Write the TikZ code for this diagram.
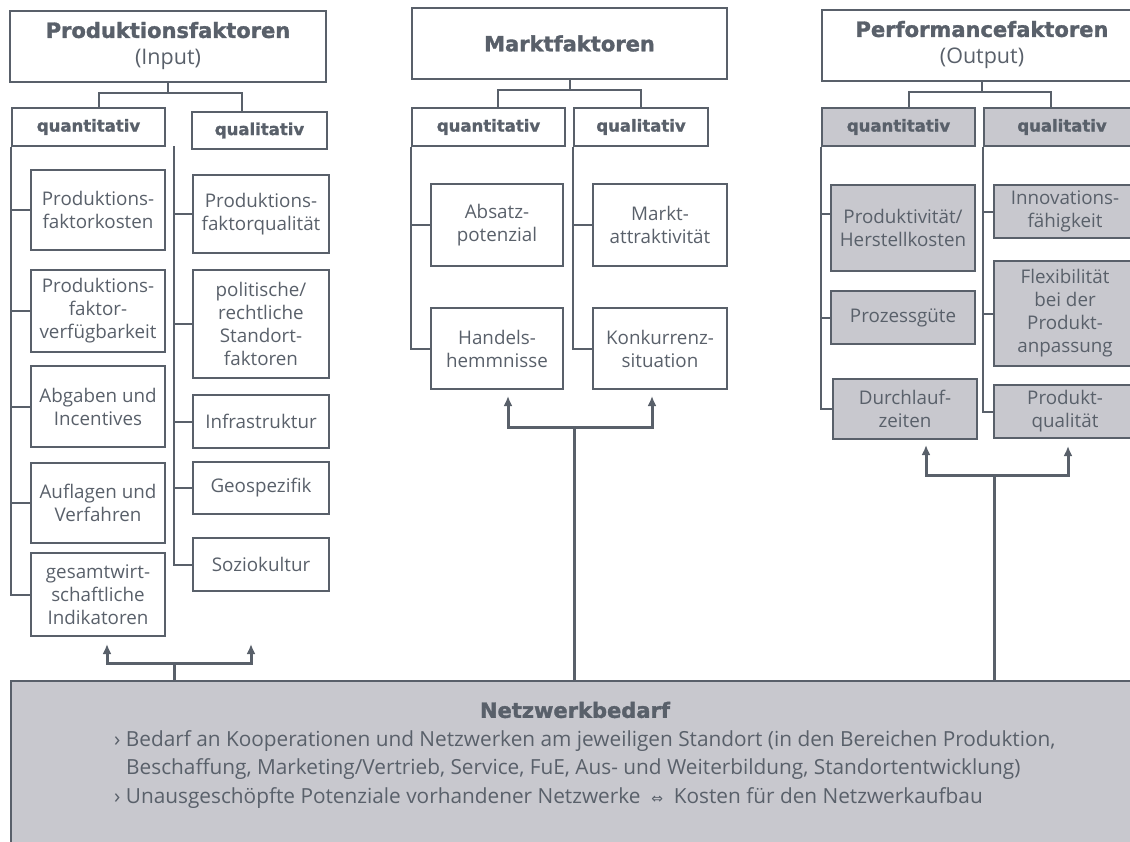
\documentclass[tikz,border=0pt]{standalone}
\usepackage{fontspec}
\setmainfont{Open Sans}
\newfontfamily\symfont{DejaVu Sans}
\newfontfamily\headfam{DejaVu Sans}[BoldFeatures={FakeBold=1.5}]
\newcommand{\headfont}{\headfam\bfseries}
\usetikzlibrary{arrows.meta}

\definecolor{lc}{HTML}{59606A}
\definecolor{gfill}{HTML}{C8C8CE}

\tikzset{
  box/.style={draw=lc, line width=2pt, text=lc, align=center, inner sep=0pt,
    font=\fontsize{18.8}{23}\selectfont},
  gbox/.style={box, fill=gfill},
  topbox/.style={box, font=\fontsize{21.5}{27}\selectfont},
  subhead/.style={box, font=\headfont\fontsize{16.5}{22}\selectfont},
  conn/.style={draw=lc, line width=2pt},
  uparrow/.style={draw=lc, line width=3pt, -{Latex[length=10pt,width=9pt]}},
  txt/.style={text=lc, inner sep=0pt, font=\fontsize{20.8}{28}\selectfont},
}

\begin{document}
\begin{tikzpicture}[x=1pt, y=-1pt]
  \useasboundingbox (0,0) rectangle (1130,841);

  % Produktionsfaktoren (Input)
  \node [topbox, minimum width=316, minimum height=71] (pf) at (168,46)
    {{\headfont\fontsize{21}{27}\selectfont Produktionsfaktoren}\\(Input)};
  \node [subhead, minimum width=153, minimum height=38] (pqn) at (88.5,127) {quantitativ};
  \node [subhead, minimum width=135, minimum height=37] (pql) at (259.5,130.5) {qualitativ};
  \draw [conn] (pf.south) -- ++(0,10) -| ([xshift=10]pqn.north);
  \draw [conn] (pf.south) ++(0,10) -| ([xshift=-18]pql.north);

  \node [box, minimum width=134, minimum height=80] (pk1) at (98,210) {Produktions-\\faktorkosten};
  \node [box, minimum width=134, minimum height=82] (pk2) at (98,311) {Produktions-\\faktor-\\verfügbarkeit};
  \node [box, minimum width=134, minimum height=81] (pk3) at (98,406.5) {Abgaben und\\Incentives};
  \node [box, minimum width=134, minimum height=80] (pk4) at (98,503) {Auflagen und\\Verfahren};
  \node [box, minimum width=134, minimum height=83] (pk5) at (98,594.5) {gesamtwirt-\\schaftliche\\Indikatoren};
  \draw [conn] (pqn.south west) |- (pk5.west);
  \foreach \n in {pk1,pk2,pk3,pk4}
    \draw [conn] (pqn.south west |- \n.west) -- (\n.west);

  \node [box, minimum width=136, minimum height=78] (pl1) at (261,214) {Produktions-\\faktorqualität};
  \node [box, minimum width=136, minimum height=108] (pl2) at (261,324) {politische/\\rechtliche\\Standort-\\faktoren};
  \node [box, minimum width=136, minimum height=53] (pl3) at (261,421.5) {Infrastruktur};
  \node [box, minimum width=136, minimum height=52] (pl4) at (261,488) {Geospezifik};
  \node [box, minimum width=136, minimum height=53] (pl5) at (261,564.5) {Soziokultur};
  \coordinate (pqt) at (174,146);
  \draw [conn] (pqt) |- (pl5.west);
  \foreach \n in {pl1,pl2,pl3,pl4}
    \draw [conn] (pqt |- \n.west) -- (\n.west);

  % Marktfaktoren
  \node [topbox, minimum width=315, minimum height=71] (mf) at (569.5,43.5)
    {\headfont\fontsize{21}{27}\selectfont Marktfaktoren};
  \node [subhead, minimum width=153, minimum height=38] (mqn) at (488.5,127) {quantitativ};
  \node [subhead, minimum width=134, minimum height=38] (mql) at (641,127) {qualitativ};
  \draw [conn] (mf.south) -- ++(0,10) -| ([xshift=9]mqn.north);
  \draw [conn] (mf.south) ++(0,10) -| (mql.north);

  \node [box, minimum width=132, minimum height=82] (mk1) at (497,225) {Absatz-\\potenzial};
  \node [box, minimum width=132, minimum height=81] (mk2) at (497,348.5) {Handels-\\hemmnisse};
  \node [box, minimum width=134, minimum height=82] (ml1) at (660,225) {Markt-\\attraktivität};
  \node [box, minimum width=134, minimum height=81] (ml2) at (660,348.5) {Konkurrenz-\\situation};
  \draw [conn] (mqn.south west) |- (mk2.west);
  \draw [conn] (mqn.south west |- mk1.west) -- (mk1.west);
  \draw [conn] (mql.south west) |- (ml2.west);
  \draw [conn] (mql.south west |- ml1.west) -- (ml1.west);

  % Performancefaktoren (Output)
  \node [topbox, minimum width=320, minimum height=71] (ef) at (982,45)
    {{\headfont\fontsize{21}{27}\selectfont Performancefaktoren}\\(Output)};
  \node [subhead, fill=gfill, minimum width=153, minimum height=38] (eqn) at (898.5,127) {quantitativ};
  \node [subhead, fill=gfill, minimum width=156, minimum height=38] (eql) at (1062,127) {qualitativ};
  \draw [conn] (ef.south) -- ++(0,10) -| ([xshift=10]eqn.north);
  \draw [conn] (ef.south) ++(0,10) -| ([xshift=-11]eql.north);

  \node [gbox, minimum width=144, minimum height=86] (ek1) at (903,228) {Produktivität/\\Herstellkosten};
  \node [gbox, minimum width=144, minimum height=53] (ek2) at (903,317.5) {Prozessgüte};
  \node [gbox, minimum width=144, minimum height=60] (ek3) at (905,409) {Durchlauf-\\zeiten};
  \node [gbox, minimum width=142, minimum height=53] (el1) at (1065,211.5) {Innovations-\\fähigkeit};
  \node [gbox, minimum width=142, minimum height=105] (el2) at (1065,313.5) {Flexibilität\\bei der\\Produkt-\\anpassung};
  \node [gbox, minimum width=142, minimum height=53] (el3) at (1065,411.5) {Produkt-\\qualität};
  \draw [conn] (eqn.south west) |- (ek3.west);
  \draw [conn] (eqn.south west |- ek2.west) -- (ek2.west);
  \draw [conn] (eqn.south west |- 0,214) -- (ek1.west |- 0,214);
  \draw [conn] (eql.south west) |- (el3.west);
  \foreach \n in {el1,el2}
    \draw [conn] (eql.south west |- \n.west) -- (\n.west);

  % Netzwerkbedarf
  \node [gbox, anchor=north west, minimum width=1150, minimum height=190] (nb) at (10,680) {};
  \node [txt, font=\headfont\fontsize{21}{26}\selectfont] (nbt) at (575,710) {Netzwerkbedarf};
  \node [txt, anchor=west] (nb1) at (114,741)
    {› Bedarf an Kooperationen und Netzwerken am jeweiligen Standort (in den Bereichen Produktion,};
  \node [txt, anchor=west] (nb2) at (126,769)
    {Beschaffung, Marketing/Vertrieb, Service, FuE, Aus- und Weiterbildung, Standortentwicklung)};
  \node [txt, anchor=west] (nb3) at (114,798)
    {› Unausgeschöpfte Potenziale vorhandener Netzwerke \ {\symfont\fontsize{14}{23}\selectfont ⇔} \ Kosten für den Netzwerkaufbau};

  % Pfeile
  \coordinate (ja) at (174,663);
  \coordinate (jb) at (574,427);
  \coordinate (jc) at (994,475);
  \coordinate (ta) at ([yshift=-7]pk5.south);
  \draw [conn, line width=3pt] (nb.north -| ja) -- (ja);
  \draw [uparrow] (ja) -| ([xshift=9]ta);
  \draw [uparrow] (ja) -| ([xshift=-10]pl5.south |- ta);
  \draw [conn, line width=3pt] (nb.north -| jb) -- (jb);
  \draw [uparrow] (jb) -| ([xshift=11,yshift=-6]mk2.south);
  \draw [uparrow] (jb) -| ([xshift=-8,yshift=-6]ml2.south);
  \draw [conn, line width=3pt] (nb.north -| jc) -- (jc);
  \draw [uparrow] (jc) -| ([xshift=21,yshift=-5]ek3.south);
  \draw [uparrow] (jc) -| ([xshift=3,yshift=-7]el3.south);
\end{tikzpicture}
\end{document}
